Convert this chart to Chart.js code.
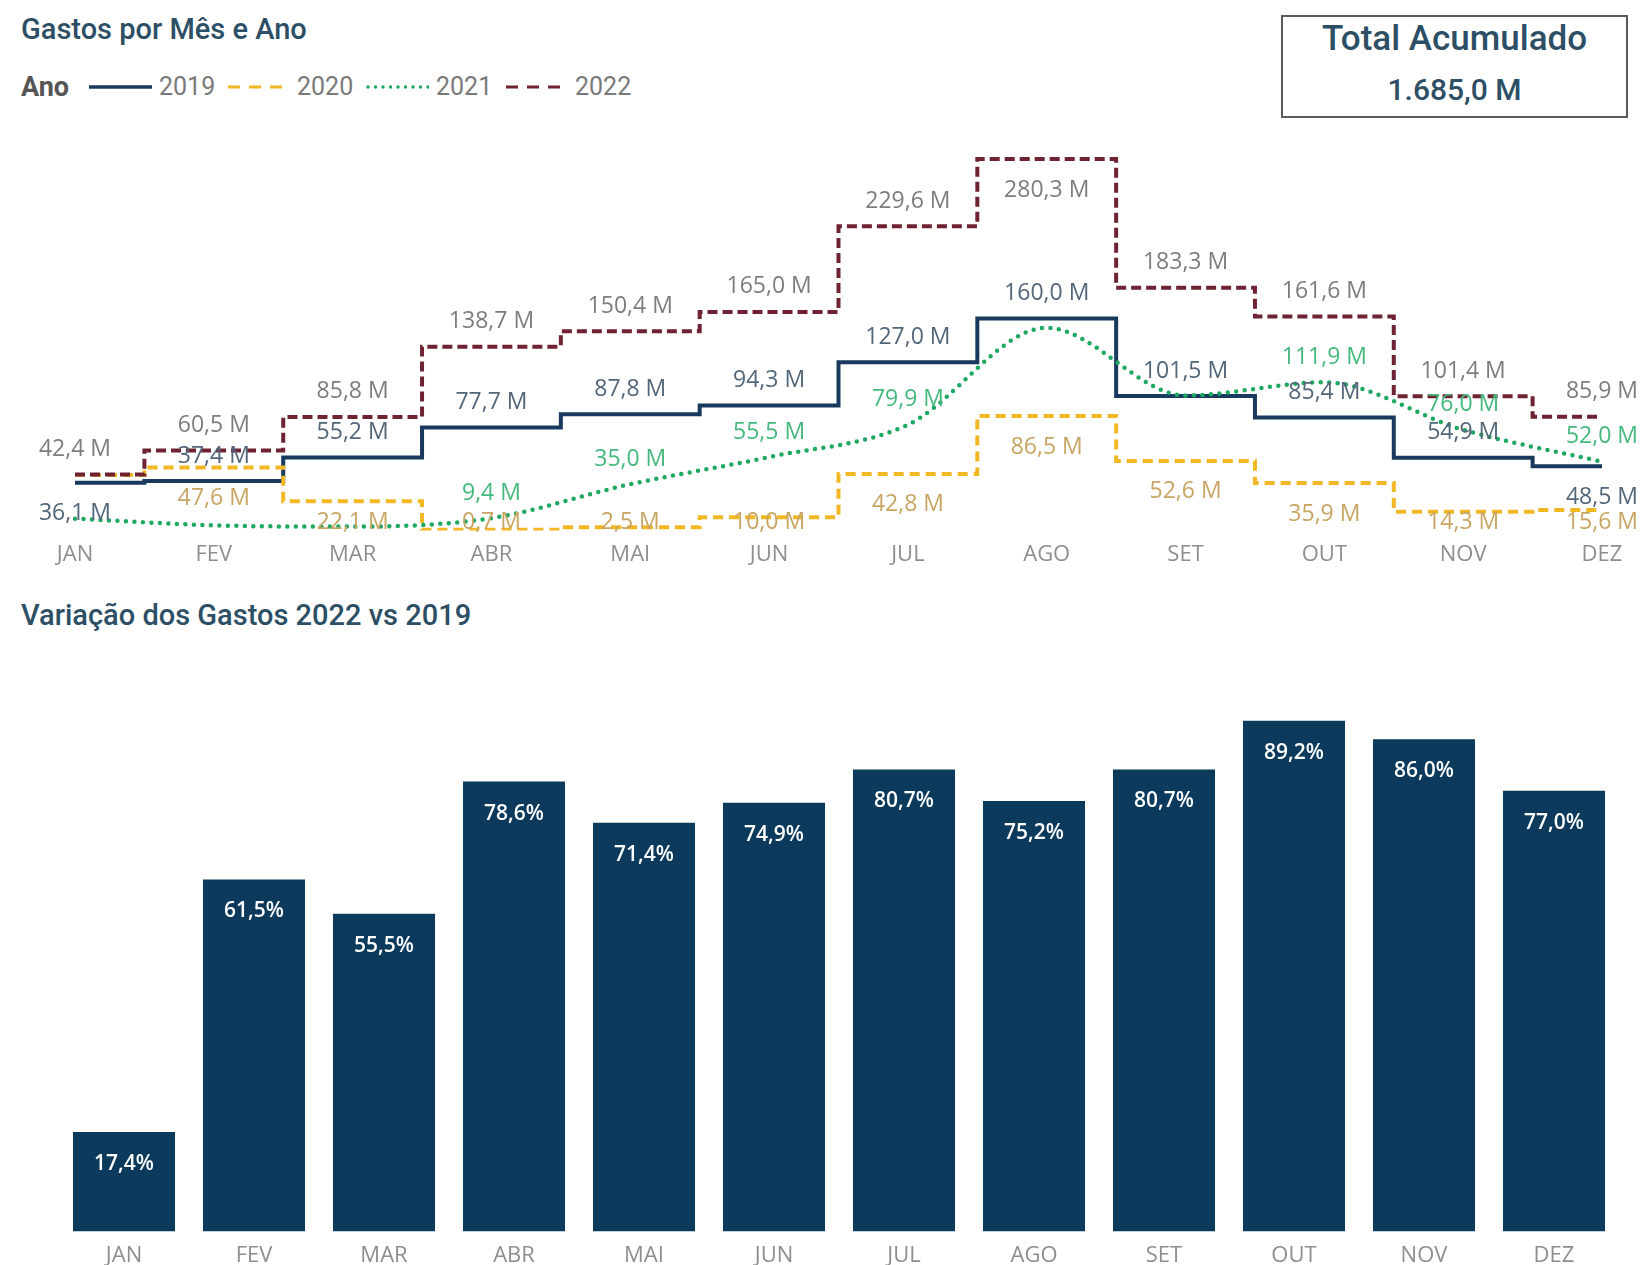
<!DOCTYPE html>
<html><head><meta charset="utf-8">
<script src="https://cdn.jsdelivr.net/npm/chart.js@4.4.1/dist/chart.umd.min.js"></script>
<style>
html,body{margin:0;padding:0;background:#fff;width:1640px;height:1265px;overflow:hidden;position:relative;font-family:Roboto,sans-serif;}
.title{position:absolute;left:21px;color:#2d4f66;font-family:Roboto;font-weight:500;font-size:29px;white-space:nowrap;line-height:30px;}
#t1{top:14px}
#t2{top:600px}
.lg{position:absolute;top:73px;height:28px;line-height:28px;font-size:25px;color:#7a7a7a;white-space:nowrap;font-family:Roboto;}
.lg.b{color:#555;font-weight:700;font-size:27px}
.lgl{position:absolute;top:73px;}
#total{position:absolute;left:1281px;top:15px;width:347px;height:103px;border:2px solid #5a5a5a;box-sizing:border-box;text-align:center;color:#2d4f66;font-family:Roboto;font-weight:500;}
#total .a{position:absolute;left:0;right:0;top:2px;font-size:35px;line-height:40px;}
#total .v{position:absolute;left:0;right:0;top:55px;font-size:30px;line-height:36px;}
canvas{position:absolute;left:0;}
#c1{top:120px}
#c2{top:640px}
</style></head>
<body>
<div class="title" id="t1">Gastos por Mês e Ano</div>
<div class="lg b" style="left:21px">Ano</div>
<svg class="lgl" style="left:89px" width="63" height="28"><line x1="0" y1="14" x2="63" y2="14" stroke="#173a5e" stroke-width="3.5"/></svg>
<div class="lg" style="left:159px">2019</div>
<svg class="lgl" style="left:228px" width="63" height="28"><line x1="0" y1="14" x2="63" y2="14" stroke="#f2b824" stroke-width="3" stroke-dasharray="12 9"/></svg>
<div class="lg" style="left:297px">2020</div>
<svg class="lgl" style="left:366px" width="63" height="28"><line x1="2" y1="14" x2="63" y2="14" stroke="#1fa862" stroke-width="3.5" stroke-linecap="round" stroke-dasharray="0 7.5"/></svg>
<div class="lg" style="left:436px">2021</div>
<svg class="lgl" style="left:506px" width="63" height="28"><line x1="0" y1="14" x2="63" y2="14" stroke="#6e2232" stroke-width="3" stroke-dasharray="12 9"/></svg>
<div class="lg" style="left:575px">2022</div>
<div id="total"><div class="a">Total Acumulado</div><div class="v" id="totv"></div></div>
<div class="title" id="t2">Variação dos Gastos 2022 vs 2019</div>
<canvas id="c1" width="1640" height="471"></canvas>
<canvas id="c2" width="1640" height="641"></canvas>
<script>
// ---- data ----
const months = ['JAN','FEV','MAR','ABR','MAI','JUN','JUL','AGO','SET','OUT','NOV','DEZ'];
const gastos2019 = [36.1, 37.4, 55.2, 77.7, 87.8, 94.3, 127.0, 160.0, 101.5, 85.4, 54.9, 48.5];
const gastos2020 = [42.0, 47.6, 22.1, 0.7, 2.5, 10.0, 42.8, 86.5, 52.6, 35.9, 14.3, 15.6];
const gastos2021 = [9.0, 4.0, 3.0, 9.4, 35.0, 55.5, 79.9, 153.0, 102.0, 111.9, 76.0, 52.0];
const gastos2022 = [42.4, 60.5, 85.8, 138.7, 150.4, 165.0, 229.6, 280.3, 183.3, 161.6, 101.4, 85.9];
const variacao = [17.4, 61.5, 55.5, 78.6, 71.4, 74.9, 80.7, 75.2, 80.7, 89.2, 86.0, 77.0];
const totalAcumulado = 1685.0;
// label placement: a = above, b = below, '' = hidden
const place2019 = ['b','a','a','a','a','a','a','a','a','a','a','b'];
const place2020 = ['','b','b','b','b','b','b','b','b','b','b','b'];
const place2021 = ['','','','a','a','a','a','','','a','a','a'];
const place2022 = ['a','a','a','a','a','a','a','b','a','a','a','a'];

const fmtBR = (v, d) => {
  const s = v.toFixed(d).split('.');
  s[0] = s[0].replace(/\B(?=(\d{3})+(?!\d))/g, '.');
  return s.join(',');
};
document.getElementById('totv').textContent = fmtBR(totalAcumulado, 1) + ' M';

const places = [place2019, place2020, place2021, place2022];
const labelColors = ['#53667a', '#c9a563', '#45b97c', '#7d7d7d'];

const lineLabels = {
  id: 'lineLabels',
  afterDatasetsDraw(chart) {
    const ctx = chart.ctx;
    ctx.save();
    ctx.font = '23px "Open Sans"';
    ctx.textAlign = 'center';
    ctx.textBaseline = 'middle';
    chart.data.datasets.forEach((ds, i) => {
      const meta = chart.getDatasetMeta(i);
      meta.data.forEach((pt, j) => {
        const p = places[i][j];
        if (!p) return;
        let y = pt.y + (p === 'a' ? -25 : 31);
        y = Math.min(y, chart.chartArea.bottom - 8);
        ctx.fillStyle = labelColors[i];
        ctx.fillText(fmtBR(ds.data[j], 1) + ' M', pt.x, y);
      });
    });
    ctx.restore();
  }
};

const barLabels = {
  id: 'barLabels',
  afterDatasetsDraw(chart) {
    const ctx = chart.ctx;
    ctx.save();
    ctx.font = '600 21px "Open Sans"';
    ctx.textAlign = 'center';
    ctx.textBaseline = 'middle';
    ctx.fillStyle = '#ffffff';
    const meta = chart.getDatasetMeta(0);
    meta.data.forEach((b, j) => {
      ctx.fillText(fmtBR(chart.data.datasets[0].data[j], 1) + '%', b.x, b.y + 32);
    });
    ctx.restore();
  }
};

const tickFont = {family: 'Open Sans', size: 22};
const tickColor = '#8e8e8e';

new Chart(document.getElementById('c1'), {
  type: 'line',
  data: {
    labels: months,
    datasets: [
      {label:'2019', data:gastos2019, borderColor:'#173a5e', borderWidth:4, stepped:'middle', pointRadius:0, fill:false, order:4, borderJoinStyle:'miter'},
      {label:'2020', data:gastos2020, borderColor:'#f2b824', borderWidth:4, borderDash:[10,6], stepped:'middle', pointRadius:0, fill:false, order:3, borderJoinStyle:'miter'},
      {label:'2021', data:gastos2021, borderColor:'#1fa862', borderWidth:4.5, borderDash:[0,8.5], borderCapStyle:'round', cubicInterpolationMode:'monotone', pointRadius:0, fill:false, order:2},
      {label:'2022', data:gastos2022, borderColor:'#6e2232', borderWidth:4, borderDash:[10,5], stepped:'middle', pointRadius:0, fill:false, order:1, borderJoinStyle:'miter'}
    ]
  },
  options: {
    responsive: false, animation: false,
    layout: {padding: {left: 75, right: 38, top: 13, bottom: 12}},
    plugins: {legend: {display: false}, tooltip: {enabled: false}},
    scales: {
      x: {offset: false, grid: {display: false, drawTicks: false}, border: {display: false},
          ticks: {color: tickColor, font: tickFont, padding: 11, maxRotation: 0, autoSkip: false}},
      y: {display: false, min: 0, max: 300}
    }
  },
  plugins: [lineLabels]
});

new Chart(document.getElementById('c2'), {
  type: 'bar',
  data: {
    labels: months,
    datasets: [{data: variacao, backgroundColor: '#0c3a5d', barPercentage: 0.785, categoryPercentage: 1}]
  },
  options: {
    responsive: false, animation: false,
    layout: {padding: {left: 59, right: 21, top: 19, bottom: 1}},
    plugins: {legend: {display: false}, tooltip: {enabled: false}},
    scales: {
      x: {grid: {display: false, drawTicks: false}, border: {display: false},
          ticks: {color: tickColor, font: tickFont, padding: 11, maxRotation: 0, autoSkip: false}},
      y: {display: false, min: 0, max: 100}
    }
  },
  plugins: [barLabels]
});
</script>
</body></html>
